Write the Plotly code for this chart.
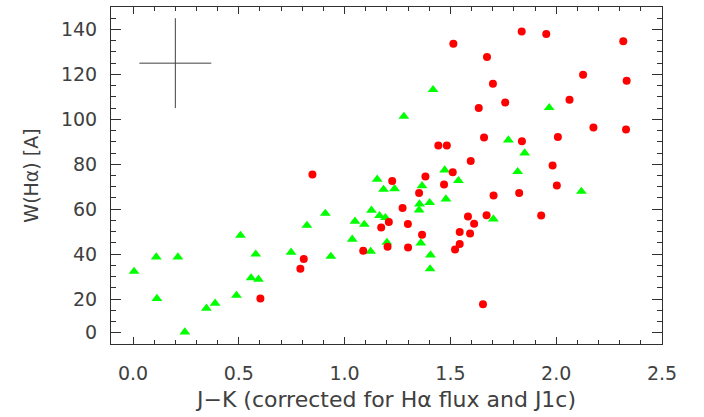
import plotly.graph_objects as go

# Red circles
red_x = [0.602, 0.807, 0.791, 0.848, 1.225, 1.382, 1.511, 1.470, 1.352, 1.274,
         1.209, 1.173, 1.299, 1.366, 1.088, 1.203, 1.300, 1.522, 1.544, 1.544,
         1.593, 1.612, 1.583, 1.671, 1.929, 1.654, 1.596, 1.704, 1.825, 1.983,
         2.003, 1.514, 1.443, 1.483, 1.837, 1.953, 2.317, 1.673, 1.701, 2.127,
         2.333, 1.634, 1.759, 2.063, 2.176, 2.330, 1.659, 1.838, 2.008]
red_y = [20.2, 37.8, 33.5, 75.5, 72.5, 74.5, 76.4, 71.0, 67.2, 60.5,
         54.3, 51.9, 53.4, 48.6, 41.5, 43.3, 42.9, 42.1, 44.5, 49.8,
         49.2, 53.5, 56.8, 57.3, 57.2, 17.7, 81.5, 66.1, 67.2, 79.5,
         70.6, 133.6, 88.3, 88.3, 139.1, 138.0, 134.7, 127.7, 115.8, 119.8,
         117.2, 105.0, 107.5, 108.7, 96.4, 95.5, 91.9, 90.3, 92.1]

# Green triangles
green_x = [0.005, 0.110, 0.212, 0.113, 0.245, 0.347, 0.388, 0.489, 0.508, 0.580,
           0.558, 0.593, 0.747, 0.822, 0.909, 0.935, 1.036, 1.049, 1.093, 1.127,
           1.154, 1.184, 1.236, 1.165, 1.193, 1.200, 1.123, 1.366, 1.354, 1.352,
           1.402, 1.360, 1.406, 1.404, 1.473, 1.479, 1.703, 1.538, 1.851, 1.818,
           2.119, 1.418, 1.280, 1.967, 1.774]
green_y = [32.3, 38.7, 38.7, 20.2, 5.3, 15.9, 18.1, 21.6, 48.3, 40.0,
           29.4, 28.8, 40.8, 52.8, 58.1, 39.0, 46.6, 54.6, 53.2, 59.5,
           73.3, 68.8, 69.1, 57.1, 56.2, 45.2, 41.2, 70.4, 62.3, 59.6,
           62.9, 44.9, 39.6, 33.4, 77.4, 64.5, 55.6, 72.7, 85.0, 76.7,
           67.9, 113.2, 101.3, 105.2, 90.8]

# Typical error bar cross
err_x = [0.2]
err_y = [125]
err_dx = [0.17]
err_dy = [20]

# Axis ticks
y_tickvals = [5, 20, 40, 60, 80, 100, 120, 140]
y_ticktext = ["0", "20", "40", "60", "80", "100", "120", "140"]

fig = go.Figure()
fig.add_trace(go.Scatter(
    x=err_x, y=err_y, mode="markers",
    marker=dict(size=1, color="rgba(0,0,0,0)"),
    error_x=dict(type="data", array=err_dx, width=0, thickness=1, color="#404040"),
    error_y=dict(type="data", array=err_dy, width=0, thickness=1, color="#404040"),
    showlegend=False, hoverinfo="skip"))
fig.add_trace(go.Scatter(
    x=green_x, y=green_y, mode="markers",
    marker=dict(symbol="triangle-up", size=9.5, color="#00ff00"),
    showlegend=False))
fig.add_trace(go.Scatter(
    x=red_x, y=red_y, mode="markers",
    marker=dict(symbol="circle", size=8, color="#ff0000"),
    showlegend=False))

font_tick = dict(family="DejaVu Sans", size=19, color="#404040")
font_xtitle = dict(family="DejaVu Sans", size=22, color="#404040")
font_ytitle = dict(family="DejaVu Sans", size=19, color="#404040")

fig.update_layout(
    width=704, height=417,
    margin=dict(l=111, r=42, t=7, b=73),
    paper_bgcolor="white", plot_bgcolor="white",
    showlegend=False,
)
fig.update_xaxes(
    range=[-0.104, 2.5], tick0=0, dtick=0.5, tickformat=".1f",
    showgrid=False, zeroline=False,
    showline=True, linecolor="#303030", linewidth=1, mirror="ticks",
    ticks="inside", ticklen=7, tickcolor="#303030", tickwidth=1,
    minor=dict(tick0=0, dtick=0.1, ticks="inside", ticklen=4, tickcolor="#303030", tickwidth=1),
    tickfont=font_tick, ticklabelstandoff=12,
    title=dict(text="J−K (corrected for Hα flux and J1c)", font=font_xtitle, standoff=8),
)
fig.update_yaxes(
    range=[0, 150], tickmode="array", tickvals=y_tickvals, ticktext=y_ticktext,
    showgrid=False, zeroline=False,
    showline=True, linecolor="#303030", linewidth=1, mirror="ticks",
    ticks="inside", ticklen=10, tickcolor="#303030", tickwidth=1,
    minor=dict(tick0=0, dtick=5, ticks="inside", ticklen=5, tickcolor="#303030", tickwidth=1),
    tickfont=font_tick, ticklabelstandoff=9,
    title=dict(text="W(Hα) [A]", font=font_ytitle, standoff=17),
)

fig.write_html("out.html")
